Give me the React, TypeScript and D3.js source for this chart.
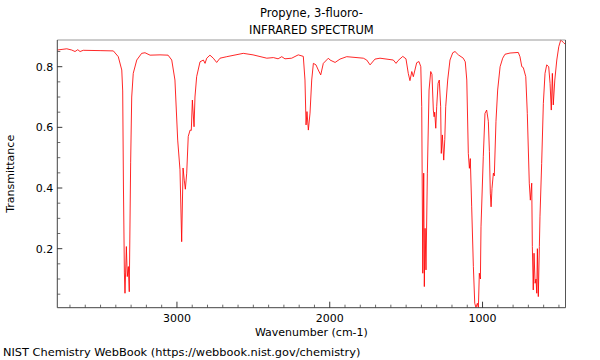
import React from "react";
import * as d3 from "d3";

const wavenumbers: number[] = [
  3783, 3752, 3721, 3689, 3667, 3649, 3634, 3613, 3503, 3416,
  3384, 3361, 3355, 3350, 3344, 3340, 3331, 3325, 3318, 3312,
  3303, 3296, 3286, 3263, 3231, 3209, 3176, 3111, 3058, 3034,
  3013, 2995, 2980, 2969, 2960, 2952, 2945, 2936, 2926, 2914,
  2906, 2899, 2888, 2882, 2871, 2849, 2827, 2816, 2805, 2784,
  2762, 2740, 2718, 2674, 2566, 2502, 2412, 2369, 2338, 2314,
  2293, 2249, 2206, 2173, 2162, 2155, 2149, 2140, 2129, 2118,
  2107, 2090, 2075, 2059, 2042, 2009, 1998, 1965, 1933, 1889,
  1780, 1758, 1736, 1704, 1671, 1584, 1566, 1553, 1522, 1501,
  1486, 1475, 1463, 1453, 1431, 1416, 1404, 1398, 1391, 1385,
  1381, 1376, 1370, 1361, 1350, 1339, 1331, 1322, 1317, 1313,
  1306, 1300, 1291, 1283, 1274, 1270, 1263, 1254, 1247, 1241,
  1228, 1213, 1195, 1180, 1158, 1126, 1113, 1103, 1093, 1086,
  1080, 1071, 1060, 1051, 1043, 1034, 1027, 1021, 1014, 1010,
  995, 984, 973, 962, 955, 949, 944, 938, 929, 923,
  912, 901, 885, 868, 853, 820, 766, 755, 743, 733,
  717, 707, 694, 687, 678, 674, 668, 663, 656, 650,
  645, 641, 635, 628, 624, 613, 602, 591, 580, 567,
  558, 550, 543, 537, 527, 514, 501, 488, 471, 457,
];

const transmittance: number[] = [
  0.855, 0.857, 0.859, 0.855, 0.85, 0.856, 0.85, 0.854, 0.853, 0.852,
  0.833, 0.789, 0.72, 0.4, 0.12, 0.053, 0.207, 0.108, 0.141, 0.058,
  0.483, 0.7, 0.778, 0.822, 0.844, 0.846, 0.838, 0.839, 0.838, 0.822,
  0.756, 0.558, 0.46, 0.223, 0.466, 0.426, 0.396, 0.449, 0.57, 0.591,
  0.59, 0.69, 0.602, 0.7, 0.767, 0.816, 0.822, 0.811, 0.828, 0.838,
  0.828, 0.814, 0.828, 0.833, 0.844, 0.839, 0.828, 0.83, 0.826, 0.833,
  0.826, 0.828, 0.839, 0.834, 0.756, 0.608, 0.652, 0.591, 0.647, 0.756,
  0.811, 0.806, 0.789, 0.773, 0.811, 0.828, 0.822, 0.814, 0.825, 0.833,
  0.828, 0.822, 0.806, 0.825, 0.828, 0.822, 0.811, 0.82, 0.834, 0.826,
  0.778, 0.754, 0.784, 0.767, 0.813, 0.817, 0.8, 0.668, 0.119, 0.449,
  0.075, 0.267, 0.13, 0.449, 0.723, 0.784, 0.775, 0.657, 0.635, 0.65,
  0.597, 0.668, 0.745, 0.756, 0.668, 0.514, 0.575, 0.492, 0.56, 0.668,
  0.756, 0.822, 0.846, 0.85, 0.839, 0.828, 0.816, 0.756, 0.514, 0.465,
  0.497, 0.338, 0.141, 0.02, 0.006, 0.02, 0.006, 0.119, 0.1, 0.272,
  0.503, 0.646, 0.657, 0.62, 0.52, 0.383, 0.338, 0.399, 0.449, 0.44,
  0.62, 0.723, 0.8, 0.828, 0.841, 0.845, 0.847, 0.833, 0.8, 0.797,
  0.767, 0.646, 0.416, 0.36, 0.416, 0.207, 0.064, 0.185, 0.086, 0.1,
  0.053, 0.2, 0.042, 0.207, 0.305, 0.481, 0.679, 0.778, 0.806, 0.8,
  0.745, 0.657, 0.778, 0.674, 0.756, 0.822, 0.866, 0.888, 0.88, 0.873,
];

const xTickLabels: number[] = [3000, 2000, 1000];
const yTickLabels: number[] = [0.2, 0.4, 0.6, 0.8];

const title1 = "Propyne, 3-fluoro-";
const title2 = "INFRARED SPECTRUM";
const xLabel = "Wavenumber (cm-1)";
const yLabel = "Transmittance";
const credit = "NIST Chemistry WebBook (https://webbook.nist.gov/chemistry)";

const W = 600;
const H = 360;
const left = 57.3;
const right = 565.5;
const top = 40;
const bottom = 307.7;
const FONT = "DejaVu Sans, sans-serif";

export default function App() {
  const x = d3.scaleLinear().domain([3783, 457]).range([left, right]);
  const y = d3.scaleLinear().domain([0.0054, 0.888]).range([bottom, top]);
  const pts: [number, number][] = wavenumbers.map((w, i) => [w, transmittance[i]]);
  const line = d3
    .line<[number, number]>()
    .x((d) => x(d[0]))
    .y((d) => y(d[1]));

  const xMinor = d3.range(500, 3783, 100).filter((v) => v % 1000 !== 0);
  const yMinor = d3.range(0.05, 0.888, 0.05).map((v) => +v.toFixed(2)).filter((v) => Math.round(v * 100) % 20 !== 0);

  return (
    <svg
      width={W}
      height={H}
      style={{ position: "absolute", left: 0, top: 0, background: "#fff" }}
      fontFamily={FONT}
    >
      <rect x={0} y={0} width={W} height={H} fill="#fff" />
      <defs>
        <clipPath id="plotclip">
          <rect x={left} y={top - 1} width={right - left} height={bottom - top + 2} />
        </clipPath>
      </defs>
      <text x={(left + right) / 2} y={17} textAnchor="middle" fontSize={11.5} fill="#000">
        {title1}
      </text>
      <text x={(left + right) / 2} y={34} textAnchor="middle" fontSize={11.5} fill="#000">
        {title2}
      </text>

      <path d={line(pts) || ""} fill="none" stroke="#ff0000" strokeWidth={0.85} clipPath="url(#plotclip)" />

      {/* frame */}
      <line x1={left} x2={right} y1={top} y2={top} stroke="#999" strokeWidth={1.2} />
      <line x1={right} x2={right} y1={top} y2={bottom} stroke="#555" strokeWidth={1} />
      <line x1={left} x2={left} y1={top} y2={bottom} stroke="#444" strokeWidth={1} />
      <line x1={left} x2={right} y1={bottom} y2={bottom} stroke="#444" strokeWidth={1} />

      {/* x ticks */}
      {xMinor.map((v) => (
        <line key={"xm" + v} x1={x(v)} x2={x(v)} y1={bottom} y2={bottom - 3} stroke="#444" strokeWidth={0.8} />
      ))}
      {xTickLabels.map((v) => (
        <g key={"xt" + v}>
          <line x1={x(v)} x2={x(v)} y1={bottom} y2={bottom - 6} stroke="#222" strokeWidth={0.9} />
          <text x={x(v)} y={bottom + 14} textAnchor="middle" fontSize={11} fill="#000">
            {v}
          </text>
        </g>
      ))}

      {/* y ticks */}
      {yMinor.map((v) => (
        <line key={"ym" + v} x1={left} x2={left + 3} y1={y(v)} y2={y(v)} stroke="#444" strokeWidth={0.8} />
      ))}
      {yTickLabels.map((v) => (
        <g key={"yt" + v}>
          <line x1={left} x2={left + 5} y1={y(v)} y2={y(v)} stroke="#222" strokeWidth={0.9} />
          <text x={left - 4} y={y(v) + 4} textAnchor="end" fontSize={11} fill="#000">
            {v.toFixed(1)}
          </text>
        </g>
      ))}

      <text x={(left + right) / 2} y={336} textAnchor="middle" fontSize={11} fill="#000">
        {xLabel}
      </text>
      <text
        transform={`translate(14, ${(top + bottom) / 2}) rotate(-90)`}
        textAnchor="middle"
        fontSize={11}
        fill="#000"
      >
        {yLabel}
      </text>
      <text x={3} y={356} fontSize={11.35} fill="#000">
        {credit}
      </text>
    </svg>
  );
}
